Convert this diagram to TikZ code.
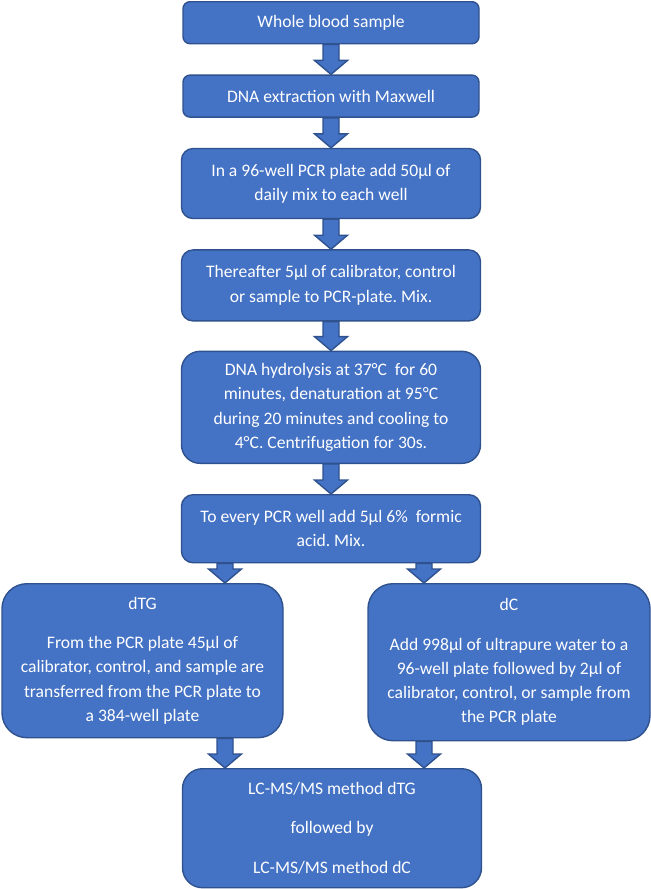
\documentclass[tikz,border=0pt]{standalone}
\usepackage{fontspec}
\setmainfont{Carlito}
\usepackage{xcolor}
\definecolor{boxblue}{RGB}{68,114,196}
\definecolor{edgeblue}{RGB}{47,82,143}
\usepackage{tikz}
\usetikzlibrary{positioning,calc}
\frenchspacing
\newcommand{\blockarrow}[2]{%
    \path[blockarrow] let \p1=(#1), \p2=(#2) in
        (\x1-0.16cm,\y1) -- (\x1+0.16cm,\y1) -- (\x1+0.16cm,\y2+0.28cm)
        -- (\x1+0.33cm,\y2+0.28cm) -- (\x1,\y2) -- (\x1-0.33cm,\y2+0.28cm)
        -- (\x1-0.16cm,\y2+0.28cm) -- cycle;}

\begin{document}
\begin{tikzpicture}[
    stepbox/.style={draw=edgeblue, fill=boxblue, line width=0.8pt, text=white,
        align=center, inner sep=2pt, minimum width=5.98cm,
        font=\fontsize{10}{13.8}\selectfont},
    blockarrow/.style={draw=edgeblue, fill=boxblue, line width=0.8pt, line join=miter},
    node distance=0.6cm]
    \useasboundingbox (0,0) rectangle (13.02,-17.78);
    \node[stepbox, anchor=north, minimum width=5.92cm, minimum height=0.84cm, rounded corners=0.14cm] (blood) at (6.62,-0.02) {Whole blood sample};
    \node[stepbox, below=of blood, minimum width=5.92cm, minimum height=0.84cm, rounded corners=0.14cm] (extract) {DNA extraction with Maxwell};
    \node[stepbox, below=of extract, minimum height=1.4cm, rounded corners=0.23cm] (mix) {In a 96-well PCR plate add 50µl of\\daily mix to each well};
    \node[stepbox, below=of mix, minimum height=1.42cm, rounded corners=0.23cm] (calib) {Thereafter 5µl of calibrator, control\\or sample to PCR-plate. Mix.};
    \node[stepbox, below=0.58cm of calib, minimum height=2.24cm, rounded corners=0.37cm] (hydro) {DNA hydrolysis at 37°C\ \ for 60\\minutes, denaturation at 95°C\\during 20 minutes and cooling to\\4°C. Centrifugation for 30s.};
    \node[stepbox, below=of hydro, minimum height=1.36cm, rounded corners=0.23cm] (formic) {To every PCR well add 5µl 6\%\ \ formic\\acid. Mix.};
    \coordinate (splitL) at ([xshift=-2.12cm]formic.south);
    \coordinate (splitR) at ([xshift=1.86cm]formic.south);
    \node[stepbox, anchor=north, minimum width=5.62cm, minimum height=3.08cm, rounded corners=0.5cm] (dtg) at (2.85,-11.66) {dTG\\[0.3cm]From the PCR plate 45µl of\\calibrator, control, and sample are\\transferred from the PCR plate to\\a 384-well plate};
    \node[stepbox, anchor=north, minimum width=5.64cm, minimum height=3.14cm, rounded corners=0.5cm] (dc) at (10.18,-11.66) {dC\\[0.3cm]Add 998µl of ultrapure water to a\\96-well plate followed by 2µl of\\calibrator, control, or sample from\\the PCR plate};
    \node[stepbox, anchor=north, minimum height=2.38cm, rounded corners=0.4cm] (lcms) at (6.64,-15.36) {LC-MS/MS method dTG\\[0.3cm]followed by\\[0.3cm]LC-MS/MS method dC};
    \blockarrow{blood.south}{extract.north}
    \blockarrow{extract.south}{mix.north}
    \blockarrow{mix.south}{calib.north}
    \blockarrow{calib.south}{hydro.north}
    \blockarrow{hydro.south}{formic.north}
    \blockarrow{splitL}{dtg.north}
    \blockarrow{splitR}{dc.north}
    \blockarrow{splitL |- dtg.south}{lcms.north}
    \blockarrow{splitR |- dc.south}{lcms.north}
\end{tikzpicture}
\end{document}
